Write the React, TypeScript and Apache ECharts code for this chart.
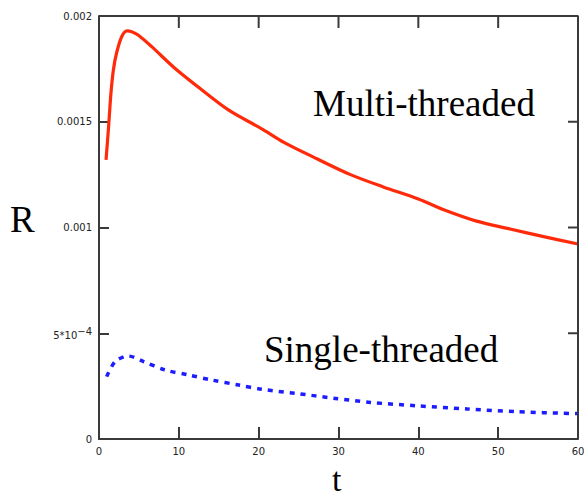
import React, { useEffect, useRef } from "react";
import * as echarts from "echarts";

const multiT = [0.88, 1.17, 1.5, 1.8, 2.2, 2.84, 3.5, 4.1, 4.9, 6.6, 9.5, 12.9, 16.2, 20.6, 23.1, 27.3, 31.5, 35.6, 40.0, 43.1, 47.3, 51.5, 55.7, 60];
const multiR = [0.00132, 0.00146, 0.001636, 0.001745, 0.001825, 0.001902, 0.00193, 0.001926, 0.00191, 0.001855, 0.001753, 0.00165, 0.001556, 0.001462, 0.001404, 0.001325, 0.001250, 0.001192, 0.001135, 0.001085, 0.001030, 0.000993, 0.000957, 0.000922];

const singleT = [0.96, 2.0, 3.2, 3.7, 5.6, 8.3, 11.2, 14.1, 17.5, 20.4, 24.6, 29.6, 34, 39.8, 46.1, 52.3, 60];
const singleR = [0.000295, 0.000366, 0.00039, 0.000392, 0.000366, 0.000326, 0.000303, 0.000279, 0.000255, 0.000235, 0.000216, 0.000192, 0.000173, 0.000157, 0.000142, 0.000129, 0.00012];

const xTicks = { min: 0, max: 60, interval: 10 };
const yTicks = { min: 0, max: 0.002, interval: 0.0005 };
const xTickValues = [0, 10, 20, 30, 40, 50, 60];
const yTickValues = [0, 0.0005, 0.001, 0.0015, 0.002];
const yTickLabels: Record<string, string> = {
  "0": "0",
  "0.0005": "{a|5*10}{b|−4}",
  "0.001": "0.001",
  "0.0015": "0.0015",
  "0.002": "0.002",
};

export default function App() {
  const ref = useRef<HTMLDivElement>(null);
  useEffect(() => {
    if (!ref.current) return;
    const chart = echarts.init(ref.current, undefined, { renderer: "svg" });
    const axisColor = "#3a3a3a";
    const axisLine = { show: true, onZero: false, lineStyle: { color: axisColor, width: 2 } };
    const tickStyle = { color: axisColor, width: 2 };
    const smallFont = { fontFamily: "DejaVu Sans", fontSize: 10, color: "#222" };
    const serif = "Liberation Serif";
    const G = { left: 99, top: 16, right: 6, bottom: 58 };
    const plotW = 584 - G.left - G.right;
    const plotH = 497 - G.top - G.bottom;
    const topTickLen = (12 * (yTicks.max - yTicks.min)) / plotH;
    const rightTickLen = (10 * (xTicks.max - xTicks.min)) / plotW;

    const frameStyle = { showSymbol: false, silent: true, clip: false, z: 5, lineStyle: { color: axisColor, width: 2 } };
    const frameSeries: any[] = [
      {
        type: "line",
        ...frameStyle,
        data: [
          [xTicks.min, yTicks.max],
          [xTicks.max, yTicks.max],
          [xTicks.max, yTicks.min],
        ],
      },
      ...xTickValues.slice(1, -1).map((v) => ({
        type: "line",
        ...frameStyle,
        data: [
          [v, yTicks.max],
          [v, yTicks.max - topTickLen],
        ],
      })),
      ...yTickValues.slice(1, -1).map((v) => ({
        type: "line",
        ...frameStyle,
        data: [
          [xTicks.max, v],
          [xTicks.max - rightTickLen, v],
        ],
      })),
    ];

    chart.setOption({
      animation: false,
      backgroundColor: "#fff",
      grid: { ...G, outerBoundsMode: "none", containLabel: false },
      xAxis: {
        type: "value",
        position: "bottom",
        ...xTicks,
        axisLine,
        axisTick: { show: true, inside: true, length: 12, lineStyle: tickStyle },
        axisLabel: { ...smallFont, margin: 7 },
        splitLine: { show: false },
      },
      yAxis: {
        type: "value",
        position: "left",
        ...yTicks,
        axisLine,
        axisTick: { show: true, inside: true, length: 10, lineStyle: tickStyle },
        axisLabel: {
          ...smallFont,
          margin: 7,
          formatter: (v: number) => yTickLabels[String(+v.toFixed(4))] ?? String(v),
          rich: {
            a: { fontFamily: "DejaVu Sans", fontSize: 10, color: "#222", lineHeight: 14, verticalAlign: "bottom" },
            b: { fontFamily: "DejaVu Sans", fontSize: 10, color: "#222", lineHeight: 14, verticalAlign: "top" },
          },
        },
        splitLine: { show: false },
      },
      series: [
        ...frameSeries,
        {
          type: "line",
          data: multiT.map((t, i) => [t, multiR[i]]),
          showSymbol: false,
          smooth: 0.3,
          z: 3,
          lineStyle: { color: "#ff2a0a", width: 3.2 },
        },
        {
          type: "line",
          data: singleT.map((t, i) => [t, singleR[i]]),
          showSymbol: false,
          smooth: 0.3,
          z: 3,
          lineStyle: { color: "#1c1cff", width: 3.5, type: [5, 6] },
        },
      ],
      graphic: [
        { type: "text", left: 313, top: 85, style: { text: "Multi-threaded", font: `37px '${serif}'`, fill: "#000" } },
        { type: "text", left: 264, top: 331, style: { text: "Single-threaded", font: `37px '${serif}'`, fill: "#000" } },
        { type: "text", left: 10, top: 201, style: { text: "R", font: `37px '${serif}'`, fill: "#000" } },
        { type: "text", left: 332, top: 462, style: { text: "t", font: `34px '${serif}'`, lineHeight: 34, fill: "#000" } },
      ],
    });
    return () => chart.dispose();
  }, []);
  return <div ref={ref} style={{ position: "fixed", left: 0, top: 0, width: 584, height: 497 }} />;
}
